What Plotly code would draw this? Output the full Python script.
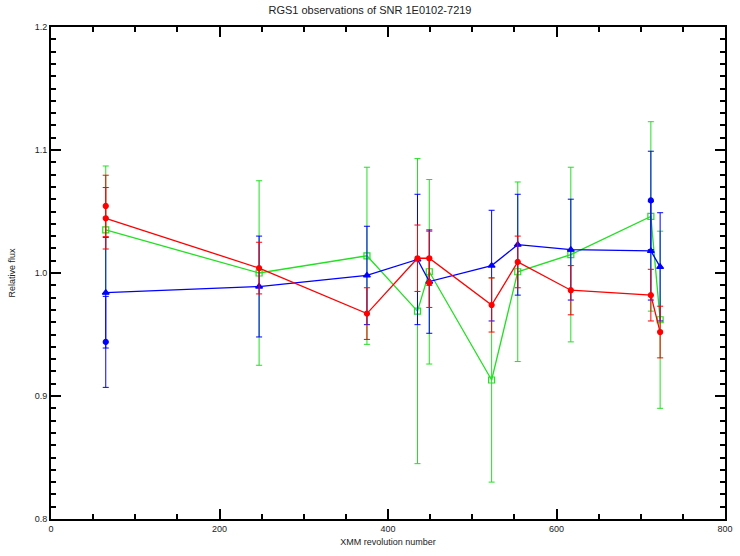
import plotly.graph_objects as go

# Revolution numbers for each series
rev_red = [65, 247, 375, 435, 449, 523, 554, 617, 712, 723]
flux_red = [1.0445, 1.004, 0.967, 1.012, 1.012, 0.974, 1.009, 0.986, 0.982, 0.952]
err_red = [0.025, 0.021, 0.021, 0.027, 0.022, 0.022, 0.021, 0.020, 0.021, 0.021]

rev_green = [65, 247, 375, 435, 449, 523, 554, 617, 712, 723]
flux_green = [1.035, 1.000, 1.014, 0.969, 1.001, 0.913, 1.001, 1.015, 1.046, 0.962]
err_green = [0.052, 0.075, 0.072, 0.124, 0.075, 0.083, 0.073, 0.071, 0.077, 0.072]

rev_blue = [65, 247, 375, 435, 449, 523, 554, 617, 712, 723]
flux_blue = [0.984, 0.989, 0.998, 1.011, 0.993, 1.006, 1.023, 1.019, 1.018, 1.005]
err_blue = [0.045, 0.041, 0.040, 0.053, 0.042, 0.045, 0.041, 0.041, 0.040, 0.044]

# Extra unconnected measurements
rev_red_x = [65, 449]
flux_red_x = [1.0545, 0.992]
err_red_x = [0.025, 0.02]

rev_blue_x = [65, 712]
flux_blue_x = [0.944, 1.059]
err_blue_x = [0.037, 0.04]

x_ticks = [0, 200, 400, 600, 800]
y_ticks = [0.8, 0.9, 1.0, 1.1, 1.2]

RED, GREEN, BLUE = "#ff0000", "#22e022", "#0000ff"
AX = "#000000"

fig = go.Figure()


def add_series(x, y, e, color, symbol, size, mode="lines+markers"):
    fig.add_trace(go.Scatter(
        x=x, y=y, mode=mode,
        line=dict(color=color, width=1.3),
        marker=dict(color=color, symbol=symbol, size=size,
                    line=dict(color=color, width=1.2)),
        error_y=dict(type="data", array=e, visible=True,
                     color=color, thickness=1, width=3),
        showlegend=False,
    ))


add_series(rev_green, flux_green, err_green, GREEN, "square-open", 6)
add_series(rev_blue, flux_blue, err_blue, BLUE, "triangle-up", 6)
add_series(rev_red, flux_red, err_red, RED, "circle", 5)
add_series(rev_red_x, flux_red_x, err_red_x, RED, "circle", 5, mode="markers")
add_series(rev_blue_x, flux_blue_x, err_blue_x, BLUE, "circle", 5, mode="markers")

axis_font = dict(family="Liberation Sans, DejaVu Sans, sans-serif", size=9, color="#222222")

fig.update_layout(
    width=740, height=556,
    margin=dict(l=51, r=15, t=27, b=37),
    paper_bgcolor="white", plot_bgcolor="white",
    title=dict(text="RGS1 observations of SNR 1E0102-7219", x=0.5, xanchor="center",
               y=0.982, yanchor="middle",
               font=dict(family="Liberation Sans, DejaVu Sans, sans-serif", size=11, color="#222222")),
    font=axis_font,
    xaxis=dict(
        range=[0, 800], tickmode="linear", tick0=x_ticks[0], dtick=x_ticks[1] - x_ticks[0],
        showgrid=False, zeroline=False, automargin=False, layer="above traces",
        showline=True, linecolor=AX, linewidth=2, mirror="allticks",
        ticks="inside", ticklen=10, tickwidth=2, tickcolor=AX,
        minor=dict(tickmode="linear", tick0=0, dtick=50, ticks="inside", ticklen=5,
                   tickwidth=1.5, tickcolor=AX, showgrid=False),
        title=dict(text="XMM revolution number", font=axis_font, standoff=6),
        tickfont=axis_font,
    ),
    yaxis=dict(
        range=[0.8, 1.2], tickmode="linear", tick0=y_ticks[0], dtick=0.1, tickformat=".1f",
        showgrid=False, zeroline=False, automargin=False, layer="above traces",
        showline=True, linecolor=AX, linewidth=2, mirror="allticks",
        ticks="inside", ticklen=10, tickwidth=2, tickcolor=AX,
        minor=dict(tickmode="linear", tick0=0.8, dtick=0.01, ticks="inside", ticklen=5,
                   tickwidth=1.5, tickcolor=AX, showgrid=False),
        title=dict(text="Relative flux", font=axis_font, standoff=18),
        tickfont=axis_font,
    ),
)

fig.write_html(
    "out.html",
    config={"displayModeBar": False},
    post_script="document.body.style.margin='0';document.body.style.overflow='hidden';",
)
